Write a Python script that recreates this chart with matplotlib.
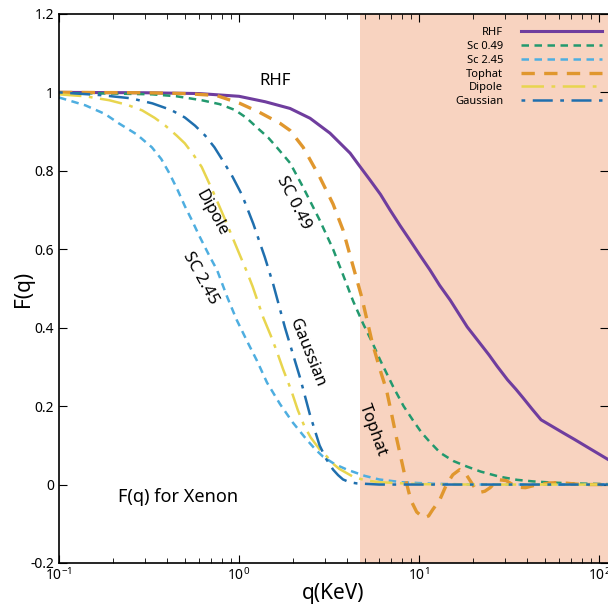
import matplotlib
matplotlib.use("Agg")
import matplotlib.pyplot as plt
from matplotlib.ticker import LogLocator, FixedLocator, FuncFormatter

plt.rcParams['font.family'] = ['Noto Sans', 'DejaVu Sans']

# datos: q en KeV, F(q)
q_rhf = [0.1, 0.3, 0.6, 1.0, 1.4, 1.92, 2.48, 3.2, 4.14, 4.64, 5.35, 6.1, 6.9,
         7.85, 8.9, 10.1, 11.5, 13.0, 14.9, 16.6, 18.5, 21.8, 24.5, 27.1, 31,
         34.5, 37.8, 42.5, 47.6, 55, 63, 73, 90, 112]
f_rhf = [1.0, 0.999, 0.997, 0.99, 0.976, 0.959, 0.934, 0.896, 0.845, 0.814,
         0.776, 0.74, 0.70, 0.66, 0.623, 0.585, 0.547, 0.508, 0.47, 0.436, 0.402,
         0.36, 0.33, 0.302, 0.267, 0.243, 0.221, 0.192, 0.165, 0.148, 0.132,
         0.115, 0.09, 0.064]

q_sc049 = [0.1, 0.2, 0.33, 0.45, 0.62, 0.78, 0.95, 1.1, 1.26, 1.45, 1.62, 1.92,
           2.27, 2.8, 3.33, 3.78, 4.3, 4.89, 5.5, 6.07, 7.17, 8.2, 9.27, 10.3,
           11.5, 13.1, 15.5, 18.4, 22, 28, 35, 43, 55, 70, 112]
f_sc049 = [0.998, 0.997, 0.995, 0.99, 0.98, 0.97, 0.955, 0.935, 0.91, 0.885,
           0.86, 0.82, 0.758, 0.675, 0.60, 0.535, 0.468, 0.41, 0.362, 0.318,
           0.25, 0.2, 0.163, 0.133, 0.108, 0.081, 0.06, 0.046, 0.033, 0.02,
           0.012, 0.008, 0.005, 0.003, 0.001]

q_sc245 = [0.1, 0.14, 0.18, 0.215, 0.27, 0.328, 0.37, 0.41, 0.455, 0.5, 0.55,
           0.6, 0.69, 0.755, 0.86, 0.97, 1.11, 1.26, 1.43, 1.69, 1.99, 2.37,
           2.65, 2.93, 3.4, 3.98, 5.0, 6.0, 8.0, 12, 20, 112]
f_sc245 = [0.987, 0.967, 0.945, 0.921, 0.893, 0.86, 0.83, 0.794, 0.752, 0.71,
           0.672, 0.635, 0.58, 0.547, 0.478, 0.42, 0.365, 0.315, 0.26, 0.205,
           0.158, 0.115, 0.09, 0.071, 0.052, 0.038, 0.022, 0.013, 0.006, 0.002,
           0.0, 0.0]

q_tophat = [0.1, 0.3, 0.5, 0.75, 1.01, 1.3, 1.69, 1.92, 2.27, 2.8, 3.33, 3.78,
            4.28, 4.8, 5.5, 6.05, 6.6, 7.05, 7.5, 8.0, 8.5, 9.0, 9.7, 10.6,
            11.3, 11.9, 13.0, 14.2, 15.4, 16.8, 18.0, 19.2, 20.5, 21.8, 23.2,
            24.8, 26.5, 28, 30.5, 33, 36, 39, 43, 47, 53, 60, 80, 112]
f_tophat = [1.0, 0.999, 0.997, 0.992, 0.972, 0.949, 0.921, 0.903, 0.86, 0.785,
            0.715, 0.649, 0.56, 0.478, 0.361, 0.295, 0.24, 0.178, 0.118, 0.06,
            0.005, -0.04, -0.07, -0.085, -0.08, -0.064, -0.04, 0.0, 0.025, 0.038,
            0.03, 0.01, -0.01, -0.02, -0.017, -0.008, 0.005, 0.012, 0.01, 0.0,
            -0.007, -0.008, -0.003, 0.0, 0.004, 0.005, 0.0, 0.0]

q_dipole = [0.1, 0.14, 0.19, 0.24, 0.29, 0.34, 0.39, 0.45, 0.5, 0.56, 0.62,
            0.72, 0.84, 0.92, 1.0, 1.1, 1.19, 1.36, 1.5, 1.62, 1.76, 1.95, 2.12,
            2.3, 2.5, 2.8, 3.08, 3.35, 3.6, 4.3, 5, 6.0, 10, 20, 112]
f_dipole = [0.995, 0.99, 0.98, 0.968, 0.954, 0.935, 0.915, 0.89, 0.87, 0.84,
            0.81, 0.745, 0.674, 0.63, 0.59, 0.545, 0.505, 0.427, 0.38, 0.34,
            0.293, 0.24, 0.19, 0.15, 0.12, 0.09, 0.071, 0.052, 0.04, 0.02, 0.011,
            0.006, 0.001, 0.0, 0.0]

q_gauss = [0.1, 0.17, 0.25, 0.33, 0.42, 0.5, 0.57, 0.648, 0.73, 0.81, 0.92,
           1.04, 1.2, 1.39, 1.55, 1.8, 2.0, 2.19, 2.47, 2.8, 3.05, 3.33, 3.55,
           3.78, 4.1, 4.5, 6, 112]
f_gauss = [1.0, 0.993, 0.985, 0.972, 0.955, 0.936, 0.915, 0.89, 0.86, 0.827,
           0.785, 0.738, 0.665, 0.58, 0.51, 0.40, 0.33, 0.27, 0.18, 0.1, 0.065,
           0.038, 0.024, 0.013, 0.006, 0.003, 0.0, 0.0]

shade_start = 4.7
x_range = (0.1, 112)
y_range = (-0.2, 1.2)
y_ticks = [-0.2, 0, 0.2, 0.4, 0.6, 0.8, 1.0, 1.2]

# figura
fig = plt.figure(figsize=(6.08, 6.06), dpi=100)
ax = fig.add_axes([0.097, 0.071, 0.903, 0.906])

ax.axvspan(shade_start, x_range[1], color='#f8d3c0', lw=0, zorder=0)

ax.plot(q_rhf, f_rhf, color='#6f3d9e', lw=2.2, label='RHF')
ax.plot(q_sc049, f_sc049, color='#22996e', lw=1.8, dashes=(3, 2.2), label='Sc 0.49')
ax.plot(q_sc245, f_sc245, color='#4eaee0', lw=1.8, dashes=(3, 2.2), label='Sc 2.45')
ax.plot(q_tophat, f_tophat, color='#e0972e', lw=2.4, dashes=(4, 2.8), label='Tophat')
ax.plot(q_dipole, f_dipole, color='#e8d54e', lw=1.8, dashes=(9, 3, 1.5, 3), label='Dipole')
ax.plot(q_gauss, f_gauss, color='#1f6fae', lw=1.8, dashes=(1.5, 3, 8, 3), label='Gaussian')

ax.set_xscale('log')
ax.set_xlim(*x_range)
ax.set_ylim(*y_range)
ax.xaxis.set_major_locator(LogLocator(base=10, numticks=10))
ax.xaxis.set_minor_locator(LogLocator(base=10, subs=range(2, 10), numticks=20))
ax.yaxis.set_major_locator(FixedLocator(y_ticks))
ax.yaxis.set_major_formatter(FuncFormatter(lambda v, p: f"{v:g}"))
ax.tick_params(which='both', direction='in', top=True, right=True, labelsize=10)
ax.tick_params(which='major', length=6)
ax.tick_params(which='minor', length=3.5)
ax.spines['right'].set_visible(False)
for s in ax.spines.values():
    s.set_linewidth(1.2)

ax.set_xlabel('q(KeV)', fontsize=15, labelpad=-1)
ax.set_ylabel('F(q)', fontsize=15, labelpad=-3)

# etiquetas sobre las curvas
kw = dict(ha='center', va='center', rotation_mode='anchor', fontsize=12)
ax.text(1.585, 1.03, 'RHF', **kw)
ax.text(2.0, 0.718, 'SC 0.49', rotation=-63, **kw)
ax.text(0.70, 0.692, 'Dipole', rotation=-61, **kw)
ax.text(0.607, 0.527, 'SC 2.45', rotation=-61, **kw)
ax.text(2.39, 0.336, 'Gaussian', rotation=-68, **kw)
ax.text(5.55, 0.14, 'Tophat', rotation=-70, **kw)
ax.text(0.458, -0.031, 'F(q) for Xenon', ha='center', va='center', fontsize=13)

leg = ax.legend(loc='upper right', bbox_to_anchor=(0.998, 0.985), borderaxespad=0,
                fontsize=8, markerfirst=False, handlelength=7.3, handletextpad=1.6,
                labelspacing=0.25, fancybox=False, framealpha=0, edgecolor='#555050',
                borderpad=0.45)
leg.get_frame().set_linewidth(1.0)

plt.savefig('out.png', dpi=100)
